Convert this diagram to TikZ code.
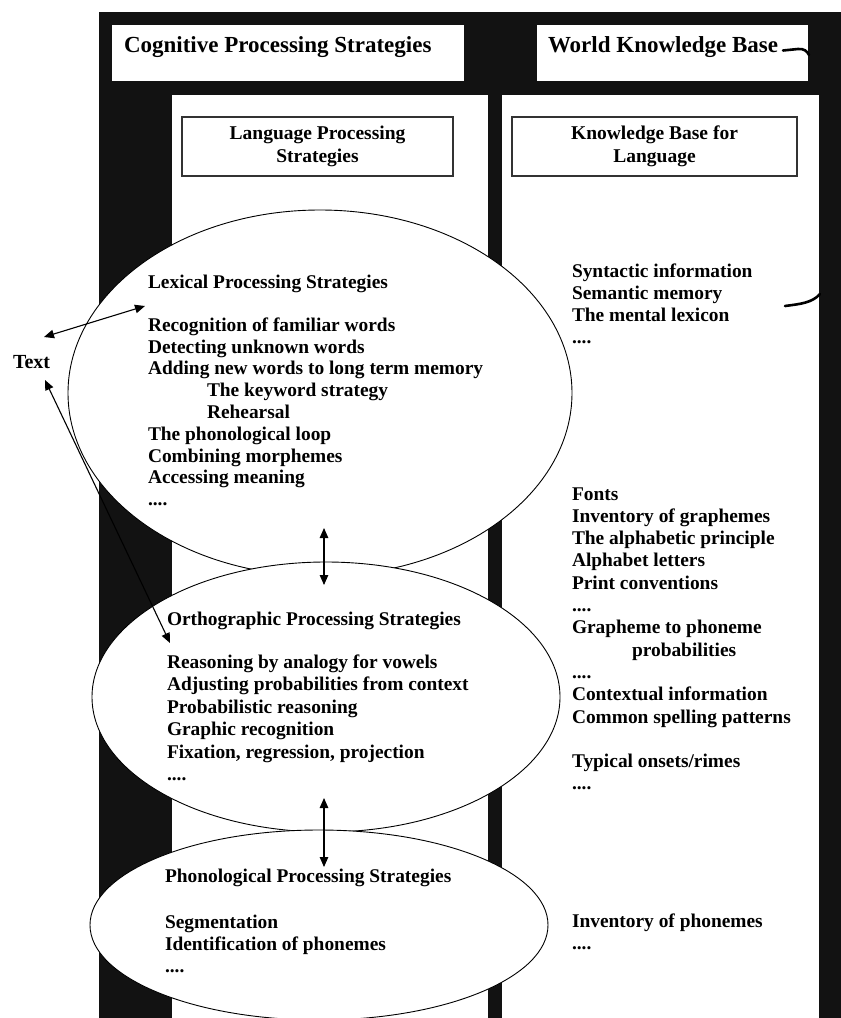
\documentclass[tikz,border=0pt]{standalone}
\usepackage{fontspec}
\setmainfont{Liberation Serif}
\usetikzlibrary{arrows.meta,shapes.geometric}
\begin{document}
\begin{tikzpicture}[x=1pt,y=-1pt,
  every node/.style={inner sep=0pt, outer sep=0pt},
  darkframe/.style={fill=black!93, draw=none},
  panel/.style={fill=white, draw=none},
  topbox/.style={fill=white, draw=none, anchor=north west},
  titletext/.style={font=\fontsize{23}{26}\selectfont\bfseries, anchor=base west},
  headbox/.style={draw=black!80, line width=1.1pt, fill=white, align=center,
    anchor=north west, font=\fontsize{19.5}{23}\selectfont\bfseries},
  item/.style={font=\fontsize{19.4}{22}\selectfont\bfseries, anchor=base west},
  bubble/.style={ellipse, draw=black, fill=white, line width=0.9pt},
  link/.style={{Triangle[length=10pt,width=8.5pt]}-{Triangle[length=10pt,width=8.5pt]}, line width=1.1pt},
  hookline/.style={line width=2.6pt, line cap=round}
]
\useasboundingbox (0,0) rectangle (841,1018);

% dark frame and the two white columns
\fill[darkframe] (99,12) rectangle (841,1018);
\fill[panel] (172,95) rectangle (488,1018);
\fill[panel] (502,95) rectangle (819,1018);

% top boxes
\node[topbox, minimum width=352pt, minimum height=56pt] (cogbox) at (112,25) {};
\node[titletext] (cog) at (124,52) {Cognitive Processing Strategies};
\node[topbox, minimum width=271pt, minimum height=56pt] (wkbox) at (537,25) {};
\node[titletext] (wk) at (548,52) {World Knowledge Base};

% column headings
\node[headbox, minimum width=271pt, minimum height=59pt] (lps) at (182,117) {Language Processing\\Strategies};
\node[headbox, minimum width=285pt, minimum height=59pt] (kbl) at (512,117) {Knowledge Base for\\Language};

% strategy ellipses (later ones drawn over earlier ones)
\node[bubble, minimum width=504pt, minimum height=366pt] (lex) at (320,393) {};
\node[bubble, minimum width=468pt, minimum height=270pt] (orth) at (326,697) {};
\node[bubble, minimum width=458pt, minimum height=190pt] (phon) at (319,925) {};

% lexical strategies
\node[item] (lexh) at (148,288) {Lexical Processing Strategies};
\node[item] (lex1) at (148,331.2) {Recognition of familiar words};
\node[item] (lex2) at (148,353) {Detecting unknown words};
\node[item] (lex3) at (148,374.8) {Adding new words to long term memory};
\node[item] (lex4) at (207,396.6) {The keyword strategy};
\node[item] (lex5) at (207,418.4) {Rehearsal};
\node[item] (lex6) at (148,440.2) {The phonological loop};
\node[item] (lex7) at (148,462) {Combining morphemes};
\node[item] (lex8) at (148,483.8) {Accessing meaning};
\node[item] (lex9) at (148,505.6) {....};

% orthographic strategies
\node[item] (orthh) at (167,625) {Orthographic Processing Strategies};
\node[item] (orth1) at (167,668) {Reasoning by analogy for vowels};
\node[item] (orth2) at (167,690.5) {Adjusting probabilities from context};
\node[item] (orth3) at (167,713) {Probabilistic reasoning};
\node[item] (orth4) at (167,735.5) {Graphic recognition};
\node[item] (orth5) at (167,758) {Fixation, regression, projection};
\node[item] (orth6) at (167,780.5) {....};

% phonological strategies
\node[item] (phonh) at (165,882) {Phonological Processing Strategies};
\node[item] (phon1) at (165,928) {Segmentation};
\node[item] (phon2) at (165,950) {Identification of phonemes};
\node[item] (phon3) at (165,972) {....};

% knowledge base entries
\node[item] (kb1) at (572,277) {Syntactic information};
\node[item] (kb2) at (572,299) {Semantic memory};
\node[item] (kb3) at (572,321) {The mental lexicon};
\node[item] (kb4) at (572,343) {....};
\node[item] (kb5) at (572,500) {Fonts};
\node[item] (kb6) at (572,522.3) {Inventory of graphemes};
\node[item] (kb7) at (572,544.6) {The alphabetic principle};
\node[item] (kb8) at (572,566.9) {Alphabet letters};
\node[item] (kb9) at (572,589.2) {Print conventions};
\node[item] (kb10) at (572,611.5) {....};
\node[item] (kb11) at (572,633.8) {Grapheme to phoneme};
\node[item] (kb12) at (632,656.1) {probabilities};
\node[item] (kb13) at (572,678.4) {....};
\node[item] (kb14) at (572,700.7) {Contextual information};
\node[item] (kb15) at (572,723) {Common spelling patterns};
\node[item] (kb16) at (572,767.6) {Typical onsets/rimes};
\node[item] (kb17) at (572,789.9) {....};
\node[item] (kb18) at (572,927) {Inventory of phonemes};
\node[item] (kb19) at (572,949) {....};

% the text being read
\node[font=\fontsize{20}{24}\selectfont\bfseries, anchor=base west] (txt) at (13,368) {Text};

% connector end points
\coordinate (txtA) at (44,337);
\coordinate (lexA) at (145,306);
\coordinate (txtB) at (45,380);
\coordinate (orthB) at (170,643);
\coordinate (lexlow) at (324,528);
\coordinate (orthtop) at (324,585);
\coordinate (orthlow) at (324,798);
\coordinate (phontop) at (324,867);
\coordinate (wkend) at (783,50.5);
\coordinate (wkedge) at (809,55);
\coordinate (kbend) at (785,306);
\coordinate (kbedge) at (820,294);

% connectors
\draw[link] (txtA) -- (lexA);
\draw[link] (txtB) -- (orthB);
\draw[link] (lexlow) -- (orthtop);
\draw[link] (orthlow) -- (phontop);
\draw[hookline] (wkend) -- (798,49) .. controls (804,48.5) and (807,51) .. (wkedge);
\draw[hookline] (kbend) .. controls (800,304) and (812,303) .. (kbedge);
\end{tikzpicture}
\end{document}
